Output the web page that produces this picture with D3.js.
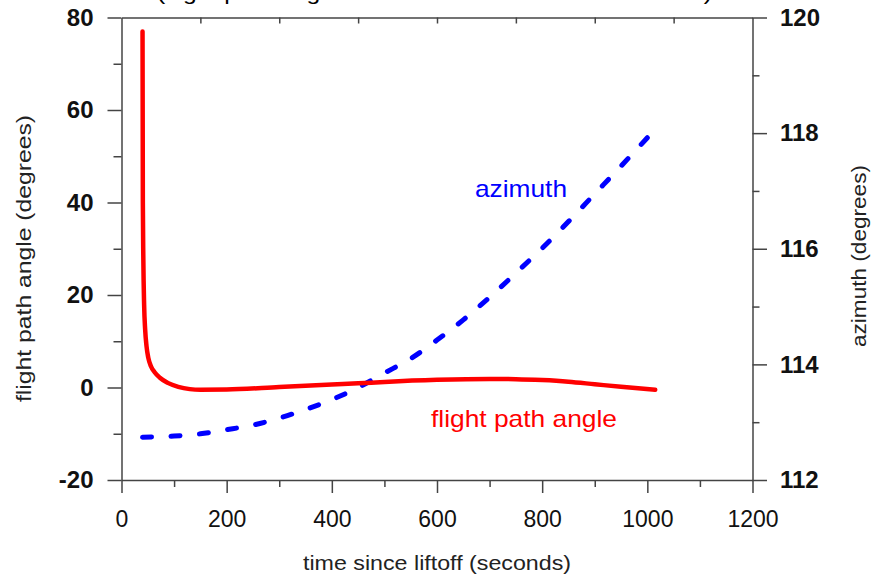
<!DOCTYPE html>
<html>
<head>
<meta charset="utf-8">
<script src="https://cdn.jsdelivr.net/npm/d3@7"></script>
<style>
  body { margin: 0; background: #fff; }
  svg { display: block; font-family: "Liberation Sans", Arial, sans-serif; }
  .axis path, .axis line { stroke: #444; stroke-width: 1.5; }
  .axis text { fill: #111; }
</style>
</head>
<body>
<svg id="chart"></svg>
<script>
// flight path angle (degrees), left axis
const fpaTime = [40, 40.6, 41.5, 43, 45, 47.5, 51, 56, 63, 73, 88, 108, 130, 150, 200, 300, 400, 450, 500, 600, 700, 750, 800, 850, 900, 950, 1015];
const fpaValues = [77, 40, 28, 18, 12.5, 9, 6.4, 4.6, 3.3, 2.1, 1.0, 0.15, -0.35, -0.5, -0.45, 0.1, 0.65, 0.9, 1.2, 1.65, 1.85, 1.8, 1.6, 1.25, 0.7, 0.15, -0.5];

// azimuth (degrees), right axis
const azTime = [40, 100, 150, 200, 250, 300, 350, 400, 450, 500, 550, 600, 650, 700, 750, 800, 850, 900, 950, 1000];
const azValues = [112.74, 112.76, 112.8, 112.87, 112.95, 113.07, 113.22, 113.39, 113.6, 113.85, 114.1, 114.42, 114.77, 115.16, 115.58, 116.01, 116.47, 116.95, 117.43, 117.92];

// tick values
const xMajorTicks = [0, 200, 400, 600, 800, 1000, 1200];
const xMinorTicks = [100, 300, 500, 700, 900, 1100];
const xTopTicks = [150, 300, 450, 600, 750, 900, 1050];
const leftMajorTicks = [-20, 0, 20, 40, 60, 80];
const leftMinorTicks = [-10, 10, 30, 50, 70];
const rightMajorTicks = [112, 114, 116, 118, 120];
const rightMinorTicks = [113, 115, 117, 119];

const config = {
  containerWidth: 873,
  containerHeight: 577,
  margin: {top: 17.5, right: 120.5, bottom: 97, left: 121.5}
};
const width = config.containerWidth - config.margin.left - config.margin.right;
const height = config.containerHeight - config.margin.top - config.margin.bottom;
const plain = d => String(d); // no thousands comma, ascii minus

const svg = d3.select('#chart')
    .attr('width', config.containerWidth)
    .attr('height', config.containerHeight);

// title, mostly above the visible area (as in the original)
svg.append('text')
    .attr('x', 434.5)
    .attr('y', 0)
    .attr('text-anchor', 'middle')
    .attr('font-size', 21)
    .attr('textLength', 555)
    .attr('lengthAdjust', 'spacingAndGlyphs')
    .text('(flight path angle and azimuth from liftoff to MECO)');

const chart = svg.append('g')
    .attr('transform', `translate(${config.margin.left},${config.margin.top})`);

// scales
const xScale = d3.scaleLinear().domain([0, 1200]).range([0, width]);
const yLeft = d3.scaleLinear().domain([-20, 80]).range([height, 0]);
const yRight = d3.scaleLinear().domain([112, 120]).range([height, 0]);

// bottom axis
chart.append('g')
    .attr('class', 'axis')
    .attr('transform', `translate(0,${height})`)
    .call(d3.axisBottom(xScale).tickValues(xMajorTicks).tickFormat(plain).tickSize(13).tickSizeOuter(0).tickPadding(18))
    .call(g => g.selectAll('text').attr('font-size', 23));
chart.append('g')
    .attr('class', 'axis')
    .attr('transform', `translate(0,${height})`)
    .call(d3.axisBottom(xScale).tickValues(xMinorTicks).tickSize(7).tickFormat(''))
    .call(g => g.select('.domain').remove());

// top axis (ticks point inward, no labels)
chart.append('g')
    .attr('class', 'axis')
    .call(d3.axisBottom(xScale).tickValues(xTopTicks).tickSize(6).tickSizeOuter(0).tickFormat(''));

// left axis
chart.append('g')
    .attr('class', 'axis')
    .call(d3.axisLeft(yLeft).tickValues(leftMajorTicks).tickFormat(plain).tickSize(14).tickSizeOuter(0).tickPadding(14))
    .call(g => g.selectAll('text').attr('font-size', 24).attr('font-weight', 'bold'));
chart.append('g')
    .attr('class', 'axis')
    .call(d3.axisLeft(yLeft).tickValues(leftMinorTicks).tickSize(8).tickFormat(''))
    .call(g => g.select('.domain').remove());

// right axis
chart.append('g')
    .attr('class', 'axis')
    .attr('transform', `translate(${width},0)`)
    .call(d3.axisRight(yRight).tickValues(rightMajorTicks).tickFormat(plain).tickSize(14.5).tickSizeOuter(0).tickPadding(13))
    .call(g => g.selectAll('text').attr('font-size', 24).attr('font-weight', 'bold'));
chart.append('g')
    .attr('class', 'axis')
    .attr('transform', `translate(${width},0)`)
    .call(d3.axisRight(yRight).tickValues(rightMinorTicks).tickSize(7).tickFormat(''))
    .call(g => g.select('.domain').remove());

// azimuth line (dashed, right axis)
const azLine = d3.line()
    .x((d, i) => xScale(azTime[i]))
    .y(d => yRight(d))
    .curve(d3.curveMonotoneX);
const azPath = chart.append('path')
    .datum(azValues)
    .attr('d', azLine)
    .attr('fill', 'none')
    .attr('stroke', '#0000ff')
    .attr('stroke-width', 5)
    .attr('stroke-linecap', 'round');

// stretch the dash period a little so the line starts and ends on a dash
const dash = 9;
const len = azPath.node().getTotalLength();
const n = Math.round((len - dash) / 29);
const period = (len - dash) / n;
azPath.attr('stroke-dasharray', `${dash},${period - dash}`);

// flight path angle line (left axis)
const fpaLine = d3.line()
    .x((d, i) => xScale(fpaTime[i]))
    .y(d => yLeft(d))
    .curve(d3.curveMonotoneX);
chart.append('path')
    .datum(fpaValues)
    .attr('d', fpaLine)
    .attr('fill', 'none')
    .attr('stroke', '#ff0000')
    .attr('stroke-width', 4.5)
    .attr('stroke-linejoin', 'round')
    .attr('stroke-linecap', 'round');

// series labels
svg.append('text')
    .attr('x', 475).attr('y', 197)
    .attr('font-size', 24)
    .attr('fill', '#0000ff')
    .attr('textLength', 92)
    .attr('lengthAdjust', 'spacingAndGlyphs')
    .text('azimuth');
svg.append('text')
    .attr('x', 431).attr('y', 427)
    .attr('font-size', 24)
    .attr('fill', '#ff0000')
    .attr('textLength', 186)
    .attr('lengthAdjust', 'spacingAndGlyphs')
    .text('flight path angle');

// axis titles
svg.append('text')
    .attr('x', 437).attr('y', 570)
    .attr('text-anchor', 'middle')
    .attr('font-size', 21)
    .attr('fill', '#222')
    .attr('textLength', 268)
    .attr('lengthAdjust', 'spacingAndGlyphs')
    .text('time since liftoff (seconds)');
svg.append('text')
    .attr('transform', 'translate(31,258.5) rotate(-90)')
    .attr('text-anchor', 'middle')
    .attr('font-size', 21)
    .attr('fill', '#222')
    .attr('textLength', 287)
    .attr('lengthAdjust', 'spacingAndGlyphs')
    .text('flight path angle (degrees)');
svg.append('text')
    .attr('transform', 'translate(866,256) rotate(-90)')
    .attr('text-anchor', 'middle')
    .attr('font-size', 21)
    .attr('fill', '#222')
    .attr('textLength', 182)
    .attr('lengthAdjust', 'spacingAndGlyphs')
    .text('azimuth (degrees)');
</script>
</body>
</html>
